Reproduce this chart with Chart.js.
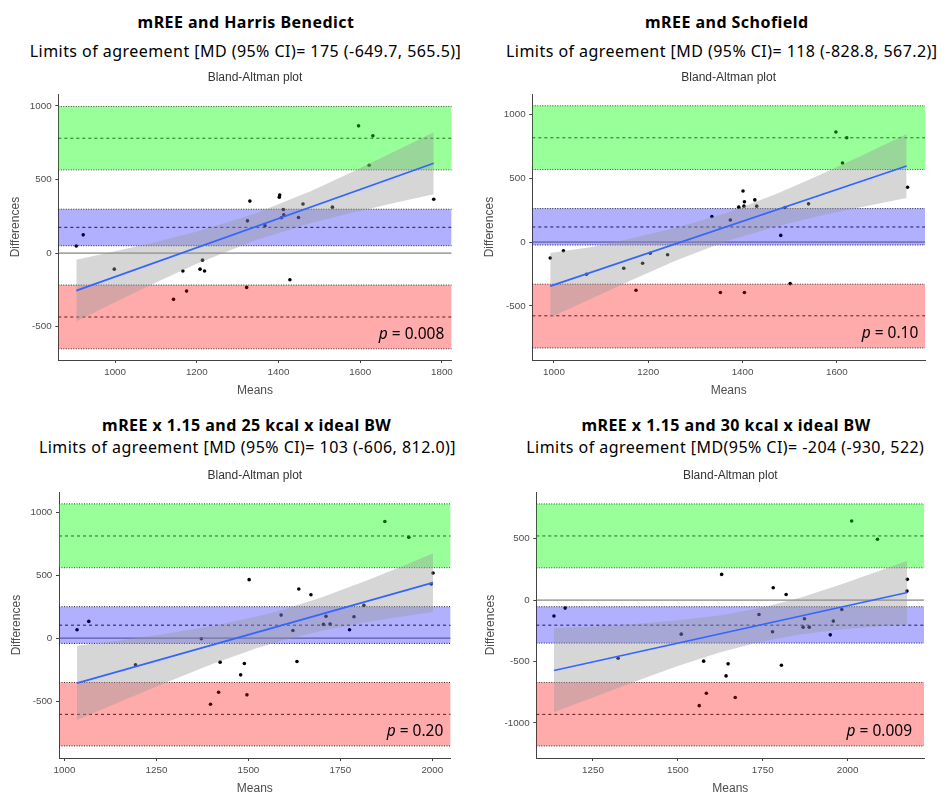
<!DOCTYPE html>
<html>
<head>
<meta charset="utf-8">
<script src="https://cdn.jsdelivr.net/npm/chart.js@4.4.0/dist/chart.umd.min.js"></script>
<style>
  html, body { margin: 0; padding: 0; background: #fff; overflow: hidden; }
  #page { position: relative; width: 946px; height: 794px; }
  canvas { position: absolute; }
  .head { position: absolute; white-space: nowrap; transform: translateX(-50%); font-family: 'Noto Sans'; color: #000; line-height: 20px; }
  .main { font-weight: bold; font-size: 16px; letter-spacing: 0.46px; }
  .sub { font-size: 16px; letter-spacing: 0.45px; }
  .pval { position: absolute; white-space: nowrap; transform: translateX(-100%); font-family: 'Noto Sans'; font-size: 15.5px; line-height: 20px; color: #000; }
</style>
</head>
<body>
<div id="page">
  <canvas id="c1" width="473" height="338" style="left:0;top:62px"></canvas>
  <canvas id="c2" width="473" height="338" style="left:473px;top:62px"></canvas>
  <canvas id="c3" width="473" height="338" style="left:0;top:460px"></canvas>
  <canvas id="c4" width="473" height="338" style="left:473px;top:460px"></canvas>
</div>
<script>
// Harris Benedict
const hbMeans = [905, 922, 998, 1143, 1166, 1175, 1208, 1214, 1219, 1322, 1324, 1330, 1367, 1402, 1403, 1407, 1412, 1413, 1428, 1449, 1460, 1532, 1596, 1622, 1631, 1780];
const hbDiffs = [48, 124, -109, -314, -122, -258, -109, -48, -122, -233, 219, 353, 186, 380, 394, 240, 296, 260, -181, 242, 333, 312, 864, 597, 796, 366];
const hbMeanBand = [50, 175, 298];
const hbLowBand = [-649.7, -434, -217];
const hbHighBand = [565.5, 780, 995];
const hbFitX = [905, 1780];
const hbFitY = [-255, 610];
const hbCiX = [905, 1000, 1100, 1200, 1340, 1480, 1580, 1680, 1780];
const hbCiHi = [-46, 12, 76, 146, 266, 422, 550, 684, 821];
const hbCiLo = [-464, -334, -200, -72, 84, 204, 274, 338, 399];
const hbXRange = [861, 1824];
const hbYRange = [-726, 1079];
const hbXTicks = [1000, 1200, 1400, 1600, 1800];
const hbYTicks = [-500, 0, 500, 1000];

// Schofield
const scMeans = [992, 1020, 1069, 1148, 1174, 1188, 1204, 1241, 1335, 1353, 1374, 1392, 1401, 1403, 1404, 1404, 1426, 1430, 1481, 1490, 1501, 1540, 1598, 1612, 1621, 1750];
const scDiffs = [-125, -68, -252, -205, -377, -166, -88, -99, 200, -395, 172, 273, 400, 281, 315, -395, 330, 281, 52, 270, -325, 299, 861, 619, 816, 429];
const scMeanBand = [-23, 118, 262];
const scLowBand = [-828.8, -577, -330];
const scHighBand = [567.2, 816, 1066];
const scFitX = [992, 1748];
const scFitY = [-345, 595];
const scCiX = [992, 1080, 1170, 1260, 1367, 1470, 1560, 1650, 1748];
const scCiHi = [-85, -38, 33, 113, 230, 374, 519, 672, 846];
const scCiLo = [-590, -442, -289, -143, 8, 120, 201, 272, 344];
const scXRange = [954, 1787];
const scYRange = [-923, 1157];
const scXTicks = [1000, 1200, 1400, 1600];
const scYTicks = [-500, 0, 500, 1000];

// 25 kcal x ideal BW
const k25Means = [1034, 1066, 1193, 1372, 1397, 1419, 1423, 1479, 1489, 1496, 1502, 1589, 1621, 1632, 1637, 1670, 1704, 1711, 1722, 1775, 1787, 1814, 1871, 1936, 1997, 2002];
const k25Diffs = [66, 133, -212, -5, -526, -430, -191, -292, -202, -451, 465, 183, 61, -186, 390, 345, 109, 173, 112, 66, 170, 260, 927, 802, 430, 518];
const k25MeanBand = [-42, 103, 250];
const k25LowBand = [-857, -606, -353];
const k25HighBand = [560, 812, 1067];
const k25FitX = [1034, 2002];
const k25FitY = [-358, 441];
const k25CiX = [1034, 1150, 1270, 1400, 1520, 1590, 1700, 1820, 1920, 2002];
const k25CiHi = [-60, -18, 33, 96, 169, 222, 324, 456, 574, 674];
const k25CiLo = [-650, -508, -361, -208, -83, -20, 58, 126, 172, 208];
const k25XRange = [985, 2050];
const k25YRange = [-953, 1160];
const k25XTicks = [1000, 1250, 1500, 1750, 2000];
const k25YTicks = [-500, 0, 500, 1000];

// 30 kcal x ideal BW
const k30Means = [1135, 1168, 1324, 1510, 1563, 1576, 1584, 1629, 1642, 1648, 1669, 1739, 1779, 1781, 1805, 1819, 1869, 1873, 1887, 1949, 1958, 1983, 2012, 2088, 2176, 2175];
const k30Diffs = [-130, -65, -473, -277, -859, -497, -758, 209, -617, -519, -793, -117, -258, 101, -530, 46, -220, -152, -220, -283, -171, -76, 644, 495, 169, 73];
const k30MeanBand = [-350, -204, -54];
const k30LowBand = [-1187, -930, -671];
const k30HighBand = [263, 522, 782];
const k30FitX = [1135, 2176];
const k30FitY = [-573, 62];
const k30CiX = [1135, 1250, 1370, 1500, 1620, 1744, 1860, 1980, 2080, 2176];
const k30CiHi = [-228, -214, -194, -164, -126, -64, 19, 126, 225, 321];
const k30CiLo = [-912, -792, -666, -536, -428, -338, -279, -240, -217, -199];
const k30XRange = [1083, 2226];
const k30YRange = [-1285, 878];
const k30XTicks = [1250, 1500, 1750, 2000];
const k30YTicks = [-1000, -500, 0, 500];

const titles = ['mREE and Harris Benedict', 'mREE and Schofield', 'mREE x 1.15 and 25 kcal x ideal BW', 'mREE x 1.15 and 30 kcal x ideal BW'];
const subtitles = [
  'Limits of agreement [MD (95% CI)= 175 (-649.7, 565.5)]',
  'Limits of agreement [MD (95% CI)= 118 (-828.8, 567.2)]',
  'Limits of agreement [MD (95% CI)= 103 (-606, 812.0)]',
  'Limits of agreement [MD(95% CI)= -204 (-930, 522)'
];
const pValues = ['0.008', '0.10', '0.20', '0.009'];

Chart.defaults.font.family = "'Liberation Sans', Arial, sans-serif";

const page = document.getElementById('page');

// header text positions (centre x, centre y)
const mainPos = [[246, 22.8], [726.8, 22.8], [246.7, 425.5], [726, 425.5]];
const subPos = [[245.5, 51.3], [721.8, 51.3], [247.5, 447], [725.3, 447]];
const pPos = [[444.3, 333.3], [918.3, 332.7], [443.3, 730], [912, 730]];

titles.forEach((t, i) => {
  const a = document.createElement('div');
  a.className = 'head main';
  a.textContent = t;
  a.style.left = mainPos[i][0] + 'px';
  a.style.top = (mainPos[i][1] - 10.5) + 'px';
  page.appendChild(a);

  const b = document.createElement('div');
  b.className = 'head sub';
  b.textContent = subtitles[i];
  b.style.left = subPos[i][0] + 'px';
  b.style.top = (subPos[i][1] - 10.5) + 'px';
  page.appendChild(b);

  const p = document.createElement('div');
  p.className = 'pval';
  p.innerHTML = '<i>p</i> = ' + pValues[i];
  p.style.left = pPos[i][0] + 'px';
  p.style.top = (pPos[i][1] - 10.5) + 'px';
  page.appendChild(p);
});

function lineSet(xs, ys, style) {
  return Object.assign({
    type: 'line',
    data: xs.map((x, i) => ({ x: x, y: ys[i] })),
    pointRadius: 0,
    borderWidth: 1,
    fill: false
  }, style);
}

function band(xr, lim, rgb, alpha) {
  return [
    lineSet(xr, [lim[2], lim[2]], { borderColor: 'rgba(0,0,0,0)', backgroundColor: 'rgba(' + rgb + ',' + alpha + ')', fill: { value: lim[0] }, order: 7 }),
    lineSet(xr, [lim[0], lim[0]], { borderColor: '#222', borderDash: [1, 1.5], order: 8 }),
    lineSet(xr, [lim[2], lim[2]], { borderColor: '#222', borderDash: [1, 1.5], order: 8 }),
    lineSet(xr, [lim[1], lim[1]], { borderColor: '#222', borderDash: [3, 3], order: 8 })
  ];
}

function axis(range, ticks, label, fit) {
  return {
    type: 'linear',
    min: range[0],
    max: range[1],
    afterBuildTicks: s => { s.ticks = ticks.map(v => ({ value: v })); },
    afterFit: fit,
    ticks: { autoSkip: false, maxRotation: 0, callback: v => String(v), color: '#4d4d4d', font: { size: 9.8 }, padding: 3.7 },
    grid: { drawOnChartArea: false, tickLength: 3, tickColor: '#444' },
    border: { color: '#444', width: 1 },
    title: { display: true, text: label, color: '#4d4d4d', font: { size: 12 }, padding: { top: 0, bottom: 2 } }
  };
}

function drawPanel(id, d, pad, yWidth) {
  const datasets = [
    lineSet(d.means, d.diffs, { showLine: false, pointRadius: 1.8, pointBackgroundColor: '#000', pointBorderWidth: 0, order: 10 }),
    lineSet(d.xRange, [0, 0], { borderColor: '#666', order: 9 }),
    ...band(d.xRange, d.high, '0,255,0', 0.4),
    ...band(d.xRange, d.mean, '0,0,255', 0.31),
    ...band(d.xRange, d.low, '255,0,0', 0.33),
    lineSet(d.ciX, d.ciHi, { borderColor: 'rgba(0,0,0,0)', backgroundColor: 'rgba(153,153,153,0.4)', fill: '+1', order: 6 }),
    lineSet(d.ciX, d.ciLo, { borderColor: 'rgba(0,0,0,0)', order: 6 }),
    lineSet(d.fitX, d.fitY, { borderColor: '#3366FF', borderWidth: 1.7, order: 5 })
  ];

  new Chart(document.getElementById(id), {
    type: 'line',
    data: { datasets },
    options: {
      responsive: false,
      animation: false,
      devicePixelRatio: 1,
      events: [],
      layout: { padding: pad },
      plugins: {
        legend: { display: false },
        tooltip: { enabled: false },
        title: {
          display: true,
          fullSize: false,
          text: 'Bland-Altman plot',
          color: '#333',
          font: { size: 12, weight: 'normal' },
          padding: { top: 0, bottom: 9.8 }
        }
      },
      scales: {
        x: axis(d.xRange, d.xTicks, 'Means', s => { s.height = 40; }),
        y: axis(d.yRange, d.yTicks, 'Differences', s => { s.width = yWidth; })
      }
    }
  });
}

drawPanel('c1', {
  means: hbMeans, diffs: hbDiffs, mean: hbMeanBand, low: hbLowBand, high: hbHighBand,
  fitX: hbFitX, fitY: hbFitY, ciX: hbCiX, ciHi: hbCiHi, ciLo: hbCiLo,
  xRange: hbXRange, yRange: hbYRange, xTicks: hbXTicks, yTicks: hbYTicks
}, { left: 8.8, right: 21.3, top: 8, bottom: 0 }, 49.5);

drawPanel('c2', {
  means: scMeans, diffs: scDiffs, mean: scMeanBand, low: scLowBand, high: scHighBand,
  fitX: scFitX, fitY: scFitY, ciX: scCiX, ciHi: scCiHi, ciLo: scCiLo,
  xRange: scXRange, yRange: scYRange, xTicks: scXTicks, yTicks: scYTicks
}, { left: 9.8, right: 21, top: 8, bottom: 0 }, 49.5);

drawPanel('c3', {
  means: k25Means, diffs: k25Diffs, mean: k25MeanBand, low: k25LowBand, high: k25HighBand,
  fitX: k25FitX, fitY: k25FitY, ciX: k25CiX, ciHi: k25CiHi, ciLo: k25CiLo,
  xRange: k25XRange, yRange: k25YRange, xTicks: k25XTicks, yTicks: k25YTicks
}, { left: 9.5, right: 22.3, top: 8, bottom: 0 }, 49.5);

drawPanel('c4', {
  means: k30Means, diffs: k30Diffs, mean: k30MeanBand, low: k30LowBand, high: k30HighBand,
  fitX: k30FitX, fitY: k30FitY, ciX: k30CiX, ciHi: k30CiHi, ciLo: k30CiLo,
  xRange: k30XRange, yRange: k30YRange, xTicks: k30XTicks, yTicks: k30YTicks
}, { left: 10.5, right: 21.7, top: 8, bottom: 0 }, 52.8);
</script>
</body>
</html>
